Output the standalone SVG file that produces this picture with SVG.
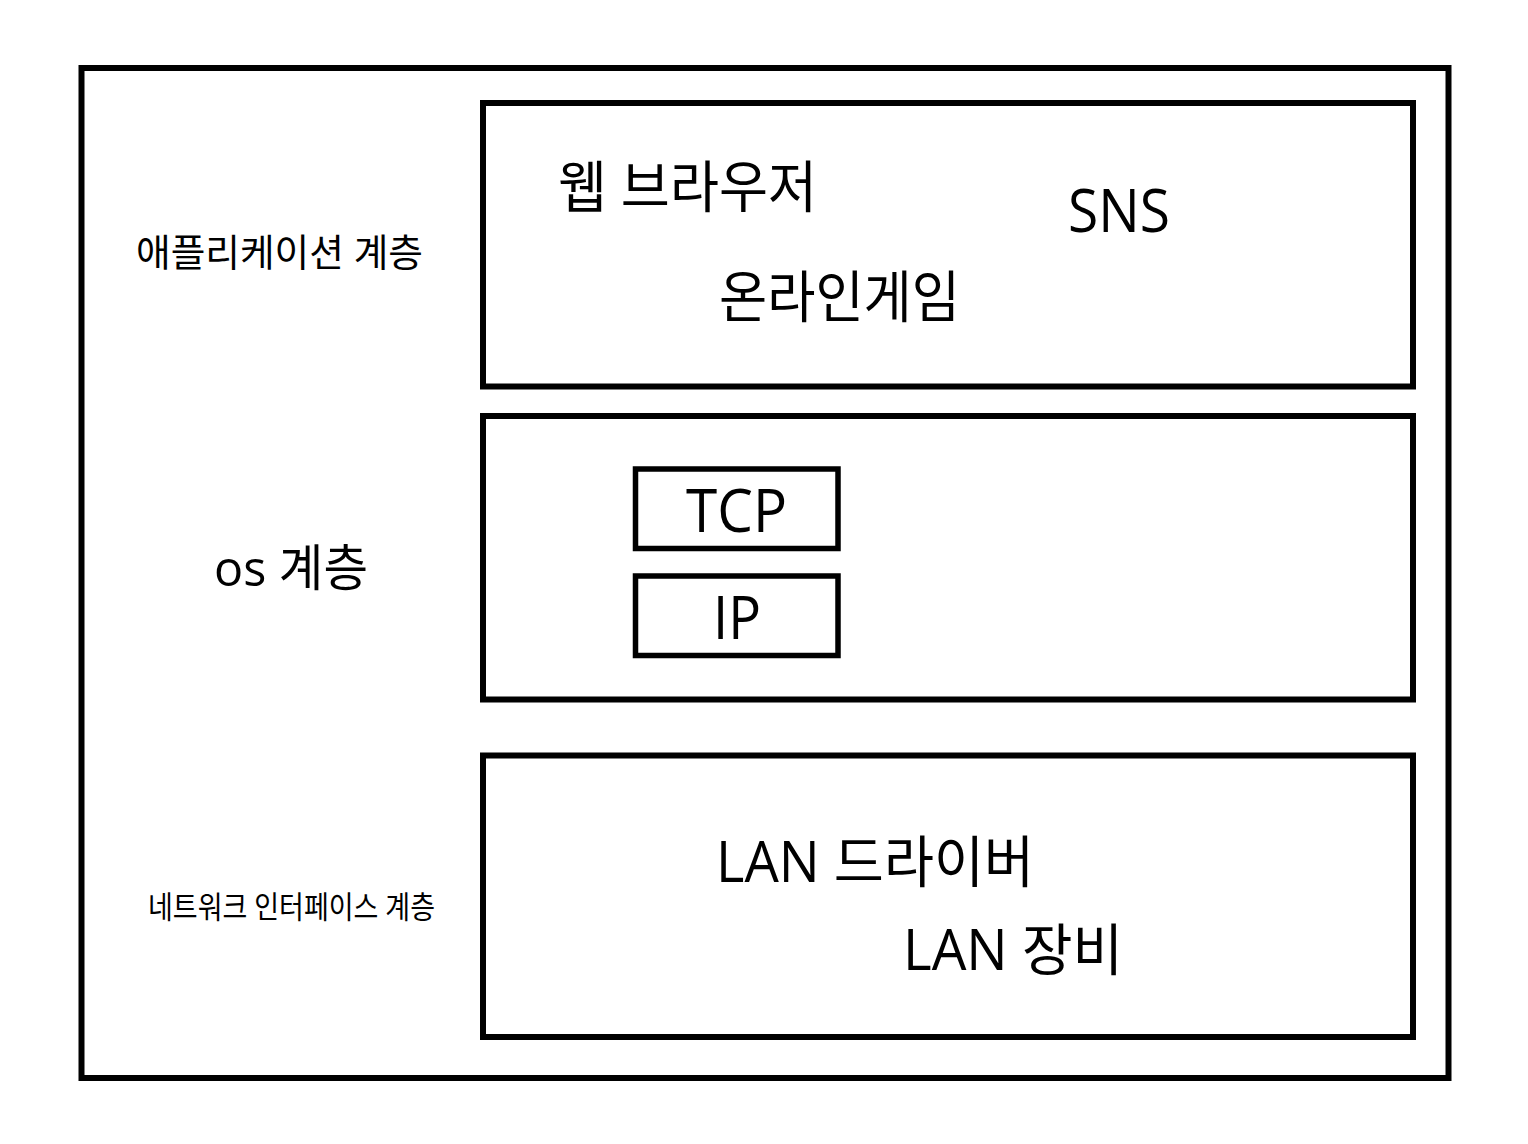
<svg xmlns="http://www.w3.org/2000/svg" width="1528" height="1144" viewBox="0 0 1528 1144">
<style>
.box{fill:none;stroke:#000;stroke-width:6}
.sm{fill:none;stroke:#000;stroke-width:5.5}
text{font-family:"Open Sans","Noto Sans CJK KR",sans-serif;fill:#000}
</style>
<rect width="1528" height="1144" fill="#fff"/>
<g id="outer"><rect class="box" x="81.5" y="68" width="1367" height="1010"/></g>
<g id="app-label"><text x="136" y="266" font-size="38" textLength="287" lengthAdjust="spacingAndGlyphs">애플리케이션 계층</text></g>
<g id="os-label"><text x="214" y="586" font-size="50" textLength="154" lengthAdjust="spacingAndGlyphs">os 계층</text></g>
<g id="net-label"><text x="148" y="918" font-size="31" textLength="287" lengthAdjust="spacingAndGlyphs">네트워크 인터페이스 계층</text></g>
<g id="app-layer">
<rect class="box" x="483" y="103" width="930" height="283.5"/>
<text x="558" y="207" font-size="56" textLength="259" lengthAdjust="spacingAndGlyphs">웹 브라우저</text>
<text x="1068" y="232" font-size="60" textLength="102" lengthAdjust="spacingAndGlyphs">SNS</text>
<text x="719" y="317" font-size="56" textLength="241" lengthAdjust="spacingAndGlyphs">온라인게임</text>
</g>
<g id="os-layer">
<rect class="box" x="483" y="416" width="930" height="283.5"/>
</g>
<g id="tcp"><rect class="sm" x="635.5" y="469" width="202.5" height="79.5"/>
<text x="686" y="532" font-size="60" textLength="101" lengthAdjust="spacingAndGlyphs">TCP</text></g>
<g id="ip"><rect class="sm" x="635.5" y="576" width="202.5" height="79.5"/>
<text x="713" y="639" font-size="60" textLength="48" lengthAdjust="spacingAndGlyphs">IP</text></g>
<g id="net-layer">
<rect class="box" x="483" y="755.5" width="930" height="281.5"/>
<text x="716" y="882" font-size="56" textLength="318" lengthAdjust="spacingAndGlyphs">LAN 드라이버</text>
<text x="903" y="970" font-size="56" textLength="220" lengthAdjust="spacingAndGlyphs">LAN 장비</text>
</g>
<g id="connectors"></g>
</svg>
